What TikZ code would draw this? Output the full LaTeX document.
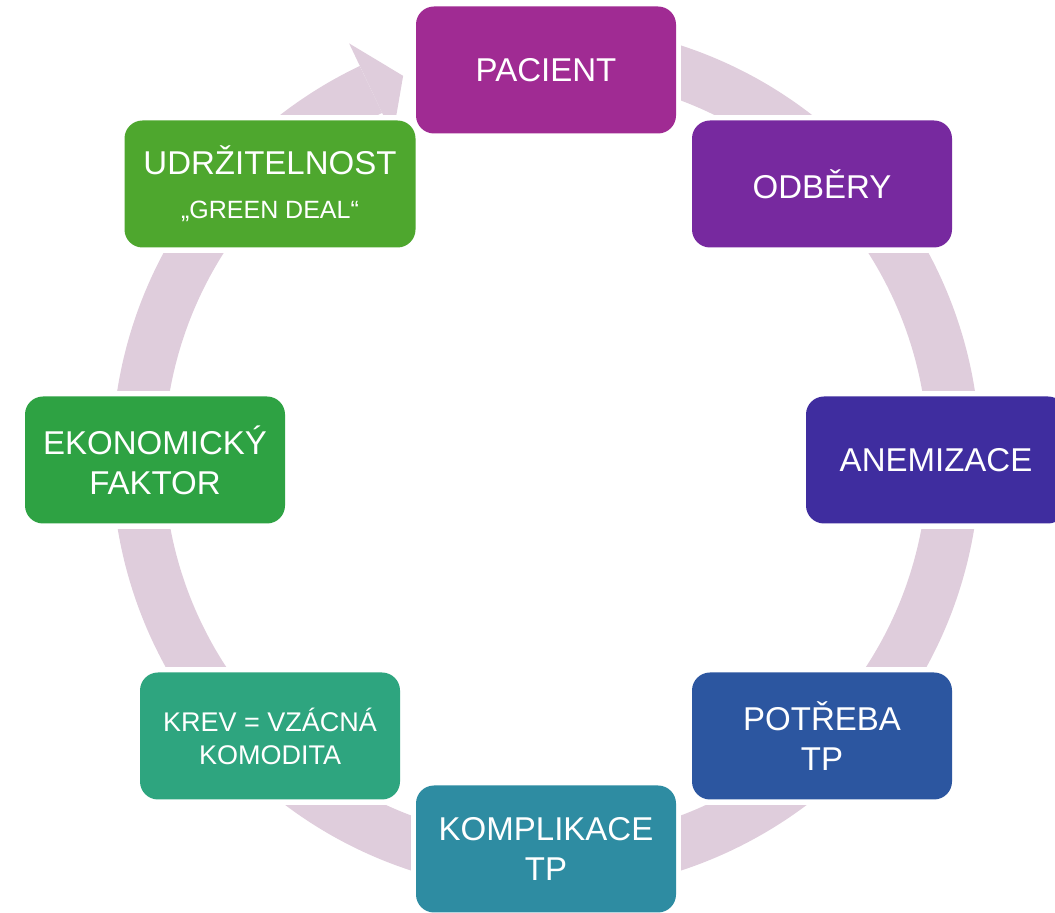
\documentclass[tikz,border=0pt]{standalone}
\usepackage{fontspec}
\setmainfont{Liberation Sans}
\usetikzlibrary{calc,backgrounds}
\definecolor{ringc}{HTML}{DFCDDC}
\definecolor{pacc}{HTML}{A02B93}
\definecolor{odbc}{HTML}{77299F}
\definecolor{anec}{HTML}{3F2D9F}
\definecolor{potc}{HTML}{2C56A0}
\definecolor{komc}{HTML}{2E8CA2}
\definecolor{krevc}{HTML}{2EA57F}
\definecolor{ekoc}{HTML}{2EA243}
\definecolor{udrc}{HTML}{4EA72E}

\begin{document}
\begin{tikzpicture}[x=1pt, y=1pt,
  every node/.style = {shape=rectangle, rounded corners=18pt,
    align=center, text=white, inner sep=0pt,
    minimum width=260pt, minimum height=127pt,
    font=\fontsize{33}{40}\selectfont}]
  \useasboundingbox (0,0) rectangle (1055,913);
  \coordinate (c) at (546,455);
  \node[fill=pacc] (pacient) at (546,843) {PACIENT};
  \node[fill=odbc] (odbery) at (822,729) {ODBĚRY};
  \node[fill=anec] (anemizace) at (936,453) {ANEMIZACE};
  \node[fill=potc] (potreba) at (822,177) {POTŘEBA\\TP};
  \node[fill=komc] (komplikace) at (546,64) {KOMPLIKACE\\TP};
  \node[fill=krevc, font=\fontsize{27}{33}\selectfont] (krev) at (270,177) {KREV = VZÁCNÁ\\KOMODITA};
  \node[fill=ekoc] (ekonomicky) at (155,453) {EKONOMICKÝ\\FAKTOR};
  \node[fill=udrc, minimum width=291pt] (udrzitelnost) at (270,729)
    {UDRŽITELNOST\\[4pt]{\fontsize{25}{30}\selectfont „GREEN DEAL“}};
  \begin{scope}[on background layer]
    \draw[ringc, line width=52pt] ($(c)+(80:408)$) arc[start angle=80, end angle=-244.6, radius=408];
    \fill[ringc] ($(c)+(115.4:459)$) -- ($(c)+(110.5:408)$) -- ($(c)+(115.4:357)$) -- cycle;
    \foreach \n in {pacient,odbery,anemizace,potreba,komplikace,krev,ekonomicky,udrzitelnost}
      \fill[white] ($(\n.south west)+(-5,-5)$) rectangle ($(\n.north east)+(5,5)$);
  \end{scope}
\end{tikzpicture}
\end{document}
